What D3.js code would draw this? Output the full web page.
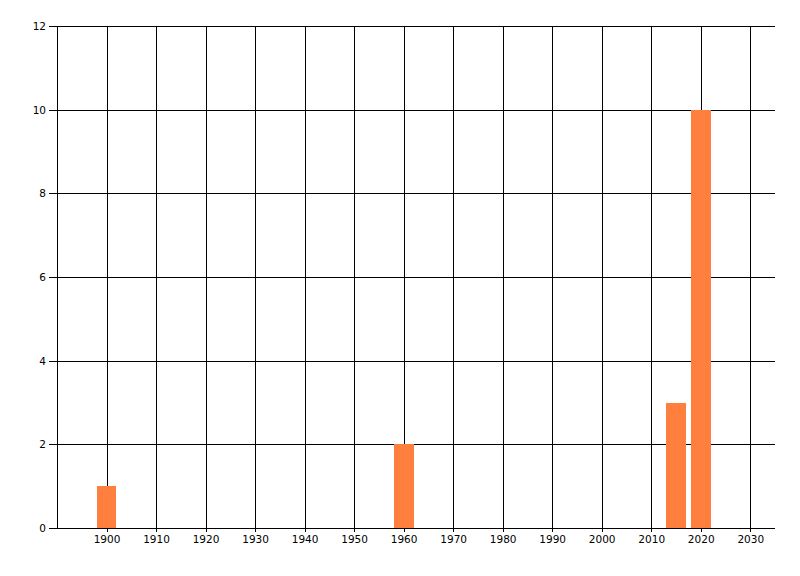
<!DOCTYPE html>
<html>
<head>
<meta charset="utf-8">
<script src="https://cdn.jsdelivr.net/npm/d3@7"></script>
<style>
  body { margin: 0; background: #fff; }
  text { font-family: "DejaVu Sans", Arial, sans-serif; font-size: 10.5px; fill: #000; }
  line, rect { shape-rendering: crispEdges; }
</style>
</head>
<body>
<div id="main-container"></div>
<script>
// DATA
const years = [1900, 1960, 2015, 2020];
const counts = [1, 2, 3, 10];
const xTicks = d3.range(1900, 2031, 10);
const yTicks = [0, 2, 4, 6, 8, 10, 12];

const margin = {top: 26, right: 25, bottom: 48, left: 57},
    width = 800 - margin.left - margin.right,
    height = 576 - margin.top - margin.bottom;

const data = years.map((y, i) => ({year: y, count: counts[i]}));

let svg = d3.select("#main-container")
    .append("svg")
        .attr("width", 800)
        .attr("height", 576)
    .append("g")
        .attr("transform", `translate(${margin.left}, ${margin.top})`);

let xAxis = d3.scaleLinear().domain([1890, 2035]).range([0, width]);
let yAxis = d3.scaleLinear().domain([0, 12]).range([height, 0]);

// grid + ticks
svg.append("g")
    .attr("transform", `translate(0, ${height})`)
    .call(d3.axisBottom(xAxis).tickValues(xTicks).tickFormat(d3.format("d"))
        .tickSizeInner(height + 4).tickSizeOuter(0).tickPadding(4))
    .call(g => g.select(".domain").remove())
    .call(g => g.selectAll(".tick line").attr("y1", -height).attr("y2", 4).attr("stroke", "#000"))
    .call(g => g.selectAll(".tick text").attr("y", 8));

svg.append("g")
    .call(d3.axisLeft(yAxis).tickValues(yTicks)
        .tickSizeInner(8).tickSizeOuter(0).tickPadding(3))
    .call(g => g.select(".domain").remove())
    .call(g => g.selectAll(".tick line").attr("x1", -8).attr("x2", width).attr("stroke", "#000"));

// left border
svg.append("line")
    .attr("x1", 0.5).attr("x2", 0.5)
    .attr("y1", 0).attr("y2", height)
    .attr("stroke", "#000");

svg.selectAll("bars")
    .data(data)
    .enter()
    .append("rect")
        .attr("x", (d) => xAxis(d.year - 2))
        .attr("y", (d) => yAxis(d.count))
        .attr("width", xAxis(4) - xAxis(0))
        .attr("height", (d) => height - yAxis(d.count))
        .attr("fill", "#FF7F3F");

// keep the baseline above the bars
svg.append("line")
    .attr("x1", -8).attr("x2", width)
    .attr("y1", height + 0.5).attr("y2", height + 0.5)
    .attr("stroke", "#000");
</script>
</body>
</html>
